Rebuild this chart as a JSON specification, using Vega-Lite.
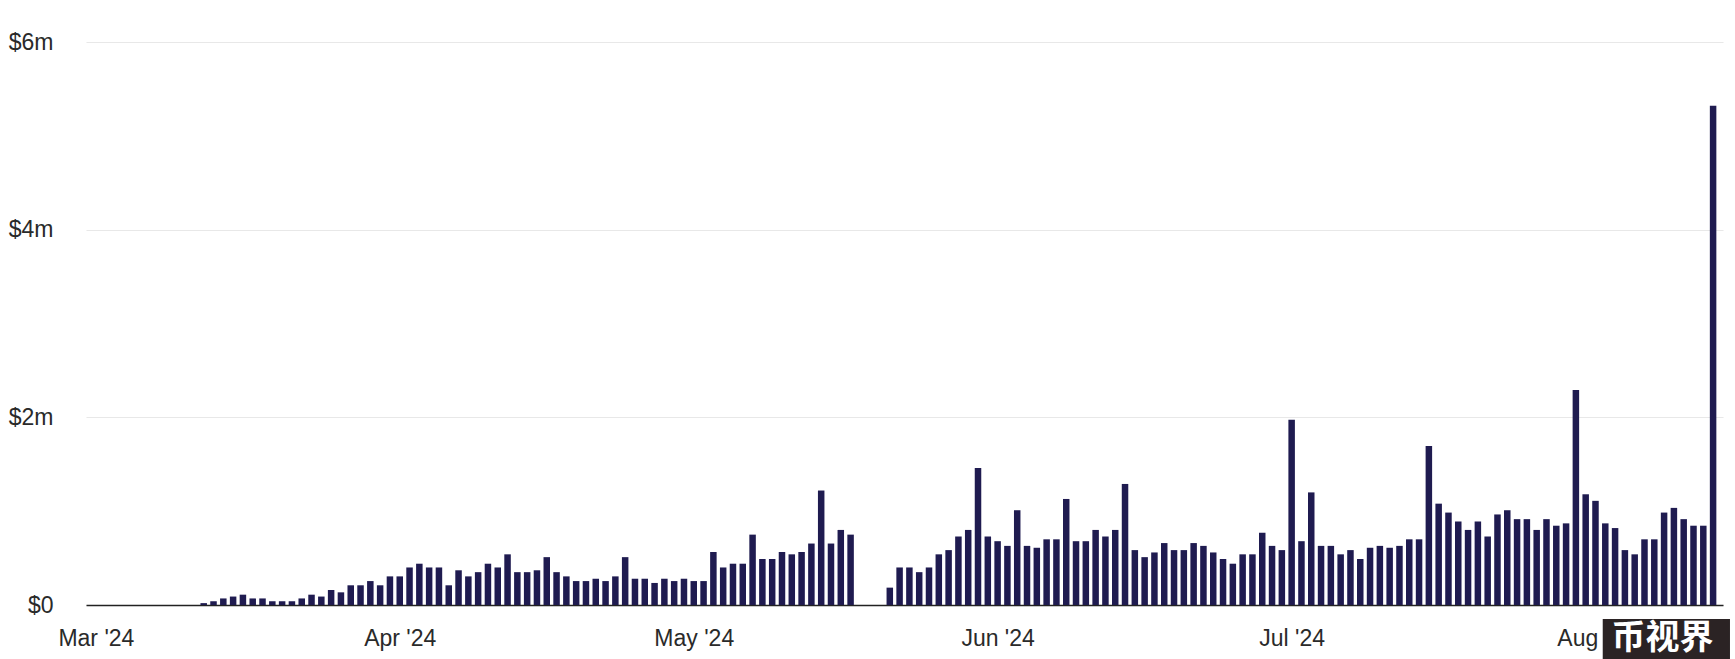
{
  "$schema": "https://vega.github.io/schema/vega-lite/v6.json",
  "width": 1637,
  "height": 563,
  "autosize": {"type": "none"},
  "padding": {"left": 86, "top": 42, "right": 12, "bottom": 54},
  "background": "white",
  "config": {"view": {"stroke": null}, "font": "Liberation Sans"},
  "layer": [
    {
      "data": {"values": [
        {"date": "2024-03-12", "v": 20000}, {"date": "2024-03-13", "v": 40000}, {"date": "2024-03-14", "v": 70000},
        {"date": "2024-03-15", "v": 90000}, {"date": "2024-03-16", "v": 110000}, {"date": "2024-03-17", "v": 70000},
        {"date": "2024-03-18", "v": 70000}, {"date": "2024-03-19", "v": 40000}, {"date": "2024-03-20", "v": 40000},
        {"date": "2024-03-21", "v": 40000}, {"date": "2024-03-22", "v": 70000}, {"date": "2024-03-23", "v": 110000},
        {"date": "2024-03-24", "v": 90000}, {"date": "2024-03-25", "v": 160000}, {"date": "2024-03-26", "v": 135000},
        {"date": "2024-03-27", "v": 210000}, {"date": "2024-03-28", "v": 210000}, {"date": "2024-03-29", "v": 255000},
        {"date": "2024-03-30", "v": 210000}, {"date": "2024-03-31", "v": 305000}, {"date": "2024-04-01", "v": 305000},
        {"date": "2024-04-02", "v": 400000}, {"date": "2024-04-03", "v": 440000}, {"date": "2024-04-04", "v": 400000},
        {"date": "2024-04-05", "v": 400000}, {"date": "2024-04-06", "v": 210000}, {"date": "2024-04-07", "v": 370000},
        {"date": "2024-04-08", "v": 305000}, {"date": "2024-04-09", "v": 350000}, {"date": "2024-04-10", "v": 440000},
        {"date": "2024-04-11", "v": 400000}, {"date": "2024-04-12", "v": 540000}, {"date": "2024-04-13", "v": 350000},
        {"date": "2024-04-14", "v": 350000}, {"date": "2024-04-15", "v": 370000}, {"date": "2024-04-16", "v": 510000},
        {"date": "2024-04-17", "v": 350000}, {"date": "2024-04-18", "v": 305000}, {"date": "2024-04-19", "v": 255000},
        {"date": "2024-04-20", "v": 255000}, {"date": "2024-04-21", "v": 280000}, {"date": "2024-04-22", "v": 255000},
        {"date": "2024-04-23", "v": 305000}, {"date": "2024-04-24", "v": 510000}, {"date": "2024-04-25", "v": 280000},
        {"date": "2024-04-26", "v": 280000}, {"date": "2024-04-27", "v": 235000}, {"date": "2024-04-28", "v": 280000},
        {"date": "2024-04-29", "v": 255000}, {"date": "2024-04-30", "v": 280000}, {"date": "2024-05-01", "v": 255000},
        {"date": "2024-05-02", "v": 255000}, {"date": "2024-05-03", "v": 565000}, {"date": "2024-05-04", "v": 400000},
        {"date": "2024-05-05", "v": 440000}, {"date": "2024-05-06", "v": 440000}, {"date": "2024-05-07", "v": 750000},
        {"date": "2024-05-08", "v": 490000}, {"date": "2024-05-09", "v": 490000}, {"date": "2024-05-10", "v": 565000},
        {"date": "2024-05-11", "v": 540000}, {"date": "2024-05-12", "v": 565000}, {"date": "2024-05-13", "v": 655000},
        {"date": "2024-05-14", "v": 1220000}, {"date": "2024-05-15", "v": 655000}, {"date": "2024-05-16", "v": 800000},
        {"date": "2024-05-17", "v": 750000}, {"date": "2024-05-21", "v": 185000}, {"date": "2024-05-22", "v": 400000},
        {"date": "2024-05-23", "v": 400000}, {"date": "2024-05-24", "v": 350000}, {"date": "2024-05-25", "v": 400000},
        {"date": "2024-05-26", "v": 540000}, {"date": "2024-05-27", "v": 585000}, {"date": "2024-05-28", "v": 730000},
        {"date": "2024-05-29", "v": 800000}, {"date": "2024-05-30", "v": 1460000}, {"date": "2024-05-31", "v": 730000},
        {"date": "2024-06-01", "v": 680000}, {"date": "2024-06-02", "v": 630000}, {"date": "2024-06-03", "v": 1010000},
        {"date": "2024-06-04", "v": 630000}, {"date": "2024-06-05", "v": 610000}, {"date": "2024-06-06", "v": 700000},
        {"date": "2024-06-07", "v": 700000}, {"date": "2024-06-08", "v": 1130000}, {"date": "2024-06-09", "v": 680000},
        {"date": "2024-06-10", "v": 680000}, {"date": "2024-06-11", "v": 800000}, {"date": "2024-06-12", "v": 730000},
        {"date": "2024-06-13", "v": 800000}, {"date": "2024-06-14", "v": 1290000}, {"date": "2024-06-15", "v": 585000},
        {"date": "2024-06-16", "v": 510000}, {"date": "2024-06-17", "v": 560000}, {"date": "2024-06-18", "v": 660000},
        {"date": "2024-06-19", "v": 585000}, {"date": "2024-06-20", "v": 585000}, {"date": "2024-06-21", "v": 660000},
        {"date": "2024-06-22", "v": 630000}, {"date": "2024-06-23", "v": 560000}, {"date": "2024-06-24", "v": 490000},
        {"date": "2024-06-25", "v": 440000}, {"date": "2024-06-26", "v": 540000}, {"date": "2024-06-27", "v": 540000},
        {"date": "2024-06-28", "v": 770000}, {"date": "2024-06-29", "v": 630000}, {"date": "2024-06-30", "v": 585000},
        {"date": "2024-07-01", "v": 1975000}, {"date": "2024-07-02", "v": 680000}, {"date": "2024-07-03", "v": 1200000},
        {"date": "2024-07-04", "v": 630000}, {"date": "2024-07-05", "v": 630000}, {"date": "2024-07-06", "v": 540000},
        {"date": "2024-07-07", "v": 585000}, {"date": "2024-07-08", "v": 490000}, {"date": "2024-07-09", "v": 610000},
        {"date": "2024-07-10", "v": 630000}, {"date": "2024-07-11", "v": 610000}, {"date": "2024-07-12", "v": 630000},
        {"date": "2024-07-13", "v": 700000}, {"date": "2024-07-14", "v": 700000}, {"date": "2024-07-15", "v": 1695000},
        {"date": "2024-07-16", "v": 1080000}, {"date": "2024-07-17", "v": 985000}, {"date": "2024-07-18", "v": 890000},
        {"date": "2024-07-19", "v": 800000}, {"date": "2024-07-20", "v": 890000}, {"date": "2024-07-21", "v": 730000},
        {"date": "2024-07-22", "v": 965000}, {"date": "2024-07-23", "v": 1010000}, {"date": "2024-07-24", "v": 915000},
        {"date": "2024-07-25", "v": 915000}, {"date": "2024-07-26", "v": 800000}, {"date": "2024-07-27", "v": 915000},
        {"date": "2024-07-28", "v": 845000}, {"date": "2024-07-29", "v": 870000}, {"date": "2024-07-30", "v": 2290000},
        {"date": "2024-07-31", "v": 1180000}, {"date": "2024-08-01", "v": 1110000}, {"date": "2024-08-02", "v": 870000},
        {"date": "2024-08-03", "v": 820000}, {"date": "2024-08-04", "v": 585000}, {"date": "2024-08-05", "v": 540000},
        {"date": "2024-08-06", "v": 700000}, {"date": "2024-08-07", "v": 700000}, {"date": "2024-08-08", "v": 985000},
        {"date": "2024-08-09", "v": 1035000}, {"date": "2024-08-10", "v": 915000}, {"date": "2024-08-11", "v": 845000},
        {"date": "2024-08-12", "v": 845000}, {"date": "2024-08-13", "v": 5320000}
      ]},
      "mark": {"type": "bar", "color": "#1f1b50", "size": 6.5},
      "encoding": {
        "x": {
          "field": "date", "type": "temporal",
          "scale": {"type": "utc", "domain": [
            {"year": 2024, "month": 2, "date": 29, "hours": 12, "utc": true},
            {"year": 2024, "month": 8, "date": 13, "hours": 12, "utc": true}
          ]},
          "axis": {
            "title": null, "grid": false, "ticks": false,
            "domain": true, "domainColor": "#222222", "domainWidth": 1.5,
            "values": [
              {"year": 2024, "month": 3, "date": 1, "utc": true},
              {"year": 2024, "month": 4, "date": 1, "utc": true},
              {"year": 2024, "month": 5, "date": 1, "utc": true},
              {"year": 2024, "month": 6, "date": 1, "utc": true},
              {"year": 2024, "month": 7, "date": 1, "utc": true},
              {"year": 2024, "month": 8, "date": 1, "utc": true}
            ],
            "format": "%b '%y", "labelFontSize": 23, "labelColor": "#2a2a2a",
            "labelPadding": 22, "labelAlign": "center", "labelBaseline": "top",
            "labelOverlap": false, "labelFlush": false
          }
        },
        "y": {
          "field": "v", "type": "quantitative",
          "scale": {"domain": [0, 6000000], "nice": false},
          "axis": {
            "title": null, "values": [0, 2000000, 4000000, 6000000],
            "labelExpr": "datum.value == 0 ? '$0' : '$' + (datum.value / 1000000) + 'm'",
            "grid": true, "gridColor": "#e8e8e8", "gridWidth": 1.2,
            "ticks": false, "domain": false, "labelFontSize": 23, "labelColor": "#2a2a2a",
            "labelPadding": 33, "labelAlign": "right", "labelBaseline": "middle"
          }
        }
      }
    },
    {
      "data": {"values": [{"label": "币视界"}]},
      "mark": {"type": "rect", "color": "#2b2324", "clip": false},
      "encoding": {
        "x": {"datum": {"year": 2024, "month": 8, "date": 1, "hours": 17, "minutes": 45, "utc": true}, "type": "temporal"},
        "x2": {"datum": {"year": 2024, "month": 8, "date": 14, "hours": 17, "minutes": 20, "utc": true}},
        "y": {"datum": -149000, "type": "quantitative"},
        "y2": {"datum": -580000}
      }
    },
    {
      "data": {"values": [{"label": "币视界"}]},
      "mark": {"type": "text", "color": "white", "font": "Noto Sans CJK SC", "fontWeight": "bold", "fontSize": 34, "align": "center", "baseline": "middle", "clip": false},
      "encoding": {
        "text": {"field": "label"},
        "x": {"datum": {"year": 2024, "month": 8, "date": 7, "hours": 20, "utc": true}, "type": "temporal"},
        "y": {"datum": -360000, "type": "quantitative"}
      }
    }
  ]
}
